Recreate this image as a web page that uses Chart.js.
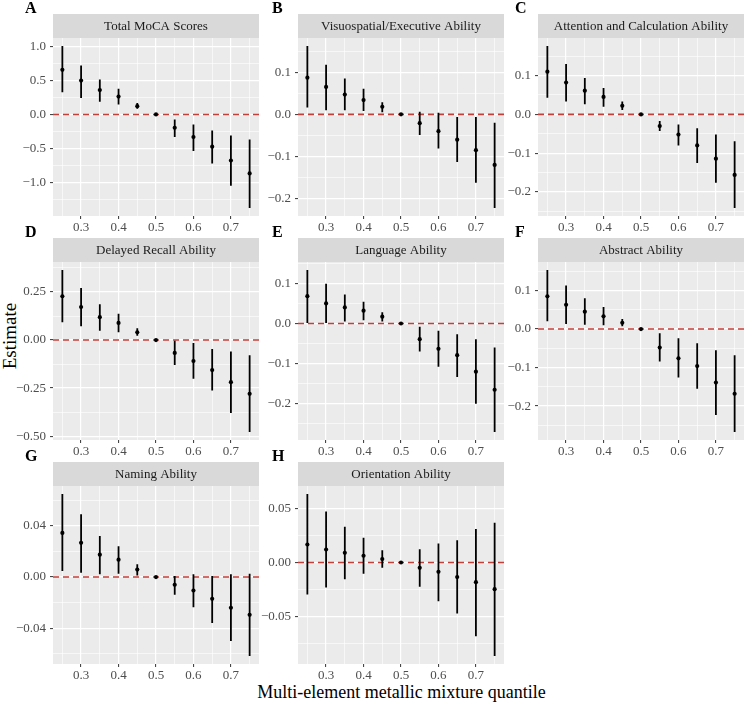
<!DOCTYPE html>
<html>
<head>
<meta charset="utf-8">
<script src="https://cdn.jsdelivr.net/npm/chart.js@4.4.0/dist/chart.umd.min.js"></script>
<style>
  body { margin: 0; background: #fff; }
  #page { position: relative; width: 748px; height: 702px; overflow: hidden; font-family: "Liberation Serif", "DejaVu Serif", "Times New Roman", serif; }
  #page canvas { position: absolute; }
  .axtitle { position: absolute; font-size: 18px; line-height: 1; color: #000; white-space: nowrap; }
</style>
</head>
<body>
<div id="page">
  <div class="axtitle" id="xtitle" style="left:401.5px; top:691.6px; transform:translate(-50%,-50%);">Multi-element metallic mixture quantile</div>
  <div class="axtitle" id="ytitle" style="left:8.5px; top:335.5px; font-size:19px; transform:translate(-50%,-50%) rotate(-90deg);">Estimate</div>
</div>
<script>
// quantiles of the metal mixture
const quantiles = [0.25, 0.30, 0.35, 0.40, 0.45, 0.50, 0.55, 0.60, 0.65, 0.70, 0.75];
const xTicks = [0.3, 0.4, 0.5, 0.6, 0.7];

const panelTitles = ['Total MoCA Scores', 'Visuospatial/Executive Ability', 'Attention and Calculation Ability',
  'Delayed Recall Ability', 'Language Ability', 'Abstract Ability', 'Naming Ability', 'Orientation Ability'];
const panelLetters = ['A', 'B', 'C', 'D', 'E', 'F', 'G', 'H'];

// estimates and 95% CI bounds
const mocaEst  = [0.66, 0.50, 0.36, 0.265, 0.122, 0, -0.196, -0.333, -0.475, -0.68, -0.87];
const mocaLow  = [0.33, 0.245, 0.187, 0.147, 0.083, 0, -0.333, -0.54, -0.725, -1.054, -1.38];
const mocaHigh = [1.01, 0.725, 0.515, 0.38, 0.17, 0, -0.074, -0.147, -0.235, -0.31, -0.37];

const visuoEst  = [0.087, 0.065, 0.047, 0.034, 0.018, 0, -0.021, -0.040, -0.060, -0.085, -0.120];
const visuoLow  = [0.016, 0.010, 0.010, 0.008, 0.005, 0, -0.049, -0.081, -0.113, -0.162, -0.222];
const visuoHigh = [0.162, 0.118, 0.085, 0.061, 0.029, 0, 0.006, 0.004, -0.006, -0.006, -0.020];

const attnEst  = [0.110, 0.082, 0.061, 0.045, 0.022, 0, -0.030, -0.052, -0.080, -0.114, -0.156];
const attnLow  = [0.043, 0.033, 0.026, 0.020, 0.011, 0, -0.043, -0.080, -0.125, -0.176, -0.241];
const attnHigh = [0.176, 0.130, 0.094, 0.068, 0.033, 0, -0.017, -0.026, -0.036, -0.052, -0.069];

const recallEst  = [0.228, 0.172, 0.119, 0.089, 0.040, 0, -0.067, -0.109, -0.156, -0.219, -0.28];
const recallLow  = [0.093, 0.072, 0.049, 0.040, 0.023, 0, -0.130, -0.201, -0.263, -0.380, -0.478];
const recallHigh = [0.364, 0.271, 0.186, 0.137, 0.061, 0, -0.004, -0.016, -0.047, -0.060, -0.079];

const langEst  = [0.068, 0.050, 0.040, 0.032, 0.017, 0, -0.039, -0.063, -0.079, -0.120, -0.165];
const langLow  = [0.001, 0.001, 0.005, 0.008, 0.005, 0, -0.070, -0.108, -0.133, -0.200, -0.270];
const langHigh = [0.133, 0.099, 0.072, 0.054, 0.028, 0, -0.008, -0.018, -0.027, -0.039, -0.060];

const abstEst  = [0.085, 0.063, 0.045, 0.033, 0.016, 0, -0.048, -0.076, -0.096, -0.139, -0.168];
const abstLow  = [0.020, 0.013, 0.011, 0.010, 0.007, 0, -0.084, -0.126, -0.155, -0.223, -0.267];
const abstHigh = [0.153, 0.113, 0.080, 0.057, 0.026, 0, -0.011, -0.024, -0.037, -0.055, -0.068];

const namingEst  = [0.0345, 0.0267, 0.0175, 0.0136, 0.0058, 0, -0.0060, -0.0105, -0.0170, -0.0240, -0.0295];
const namingLow  = [0.0047, 0.0034, 0.0021, 0.0026, 0.0013, 0, -0.0139, -0.0235, -0.0358, -0.0500, -0.0616];
const namingHigh = [0.0648, 0.0490, 0.0320, 0.0240, 0.0099, 0, 0.0008, 0.0021, 0.0008, 0.0021, 0.0026];

const orientEst  = [0.0166, 0.0120, 0.0089, 0.0062, 0.0031, 0, -0.0049, -0.0086, -0.0135, -0.0182, -0.0246];
const orientLow  = [-0.0295, -0.0230, -0.0154, -0.0105, -0.0049, 0, -0.0225, -0.0357, -0.0470, -0.0680, -0.0862];
const orientHigh = [0.0631, 0.0470, 0.0330, 0.0228, 0.0114, 0, 0.0123, 0.0175, 0.0206, 0.0308, 0.0366];

// y tick labels per panel
const mocaTicks   = [-1.0, -0.5, 0.0, 0.5, 1.0];
const visuoTicks  = [-0.2, -0.1, 0.0, 0.1];
const attnTicks   = [-0.2, -0.1, 0.0, 0.1];
const recallTicks = [-0.50, -0.25, 0.00, 0.25];
const langTicks   = [-0.2, -0.1, 0.0, 0.1];
const abstTicks   = [-0.2, -0.1, 0.0, 0.1];
const namingTicks = [-0.04, 0.00, 0.04];
const orientTicks = [-0.05, 0.00, 0.05];
const tickDecimals = [1, 1, 1, 2, 1, 1, 2, 2];

const panels = [
  [mocaEst, mocaLow, mocaHigh, mocaTicks],
  [visuoEst, visuoLow, visuoHigh, visuoTicks],
  [attnEst, attnLow, attnHigh, attnTicks],
  [recallEst, recallLow, recallHigh, recallTicks],
  [langEst, langLow, langHigh, langTicks],
  [abstEst, abstLow, abstHigh, abstTicks],
  [namingEst, namingLow, namingHigh, namingTicks],
  [orientEst, orientLow, orientHigh, orientTicks]
];

// layout of the facet grid
const plotLefts = [53, 298, 538];
const axisWidths = [53, 45, 45];
const letterX = [25, 19, 22];
const rowTops = [0, 224, 448];
const plotW = 209, plotH = 178, stripH = 24, topPad = 38, xAxisH = 22;
const xMin = 0.225, xMax = 0.775;
const serif = '"Liberation Serif", "DejaVu Serif", "Times New Roman", serif';

function fmt(v, d) {
  if (Math.abs(v) < 1e-9) v = 0;
  return v.toFixed(d).replace('-', '\u2212');
}

function tickList(major, min, max) {
  const half = (major[1] - major[0]) / 2;
  const out = [];
  for (let k = -20; k <= 2 * major.length + 20; k++) {
    const v = major[0] + k * half;
    if (v >= min - 1e-9 && v <= max + 1e-9) out.push({ value: v, minor: k % 2 !== 0 });
  }
  return out;
}

const facetPlugin = {
  id: 'facet',
  beforeDraw(chart, args, opts) {
    const { ctx, chartArea: a } = chart;
    ctx.save();
    ctx.fillStyle = '#EBEBEB';
    ctx.fillRect(a.left, a.top, a.right - a.left, a.bottom - a.top);
    ctx.fillStyle = '#D9D9D9';
    ctx.fillRect(a.left, a.top - stripH, a.right - a.left, stripH);
    ctx.fillStyle = '#1A1A1A';
    ctx.font = '13px ' + serif;
    ctx.textAlign = 'center';
    ctx.textBaseline = 'middle';
    ctx.fillText(opts.title, (a.left + a.right) / 2, a.top - stripH / 2 + 0.5);
    ctx.fillStyle = '#000';
    ctx.font = 'bold 16px ' + serif;
    ctx.textAlign = 'left';
    ctx.textBaseline = 'alphabetic';
    ctx.fillText(opts.letter, opts.letterX, 12.5);
    ctx.restore();
  }
};

const page = document.getElementById('page');

panels.forEach(function (p, i) {
  const est = p[0], low = p[1], high = p[2], yMajor = p[3];
  const col = i % 3, row = Math.floor(i / 3);
  const lo = Math.min(0, ...low), hi = Math.max(0, ...high);
  const yMin = lo - 0.05 * (hi - lo), yMax = hi + 0.05 * (hi - lo);

  const canvas = document.createElement('canvas');
  const w = axisWidths[col] + plotW + 1, h = topPad + plotH + xAxisH;
  canvas.width = w; canvas.height = h;
  canvas.style.left = (plotLefts[col] - axisWidths[col]) + 'px';
  canvas.style.top = rowTops[row] + 'px';
  page.appendChild(canvas);

  // vertical CI segments, broken by nulls
  const ciData = [];
  quantiles.forEach((q, j) => {
    ciData.push({ x: q, y: low[j] }, { x: q, y: high[j] }, { x: q, y: null });
  });

  const tickFont = { family: serif, size: 13 };
  const gridOpts = {
    color: '#FFFFFF',
    lineWidth: c => (c.tick && c.tick.minor ? 0.6 : 1.2),
    tickLength: 3,
    tickWidth: 1,
    tickColor: c => (c.tick && c.tick.minor ? 'rgba(0,0,0,0)' : '#333333'),
    offset: false
  };

  new Chart(canvas, {
    type: 'line',
    data: {
      datasets: [
        {
          type: 'scatter',
          data: quantiles.map((q, j) => ({ x: q, y: est[j] })),
          pointRadius: 2.1,
          pointBackgroundColor: '#000',
          pointBorderColor: '#000',
          pointBorderWidth: 0,
          order: 0
        },
        {
          data: ciData,
          borderColor: '#000',
          borderWidth: 1.8,
          borderCapStyle: 'butt',
          spanGaps: false,
          pointRadius: 0,
          tension: 0,
          order: 1
        },
        {
          data: [{ x: xMin, y: 0 }, { x: xMax, y: 0 }],
          borderColor: '#C43E3A',
          borderWidth: 1.6,
          borderDash: [6, 4],
          pointRadius: 0,
          order: 2
        }
      ]
    },
    options: {
      responsive: false,
      animation: false,
      devicePixelRatio: 1,
      layout: { padding: { top: topPad, left: 0, right: 1, bottom: 0 } },
      plugins: {
        legend: { display: false },
        tooltip: { enabled: false },
        facet: { title: panelTitles[i], letter: panelLetters[i], letterX: letterX[col] }
      },
      scales: {
        x: {
          type: 'linear',
          min: xMin, max: xMax,
          offset: false,
          afterBuildTicks: s => { s.ticks = tickList(xTicks, xMin, xMax); },
          afterFit: s => { s.height = xAxisH; },
          ticks: {
            autoSkip: false, maxRotation: 0, padding: 1, color: '#4D4D4D', font: tickFont,
            callback: (v, idx, t) => (t[idx].minor ? '' : fmt(v, 1))
          },
          grid: gridOpts,
          border: { display: false }
        },
        y: {
          type: 'linear',
          min: yMin, max: yMax,
          afterBuildTicks: s => { s.ticks = tickList(yMajor, yMin, yMax); },
          afterFit: s => { s.width = axisWidths[col]; },
          ticks: {
            autoSkip: false, padding: 4, color: '#4D4D4D', font: tickFont,
            callback: (v, idx, t) => (t[idx].minor ? '' : fmt(v, tickDecimals[i]))
          },
          grid: gridOpts,
          border: { display: false }
        }
      }
    },
    plugins: [facetPlugin]
  });
});
</script>
</body>
</html>
